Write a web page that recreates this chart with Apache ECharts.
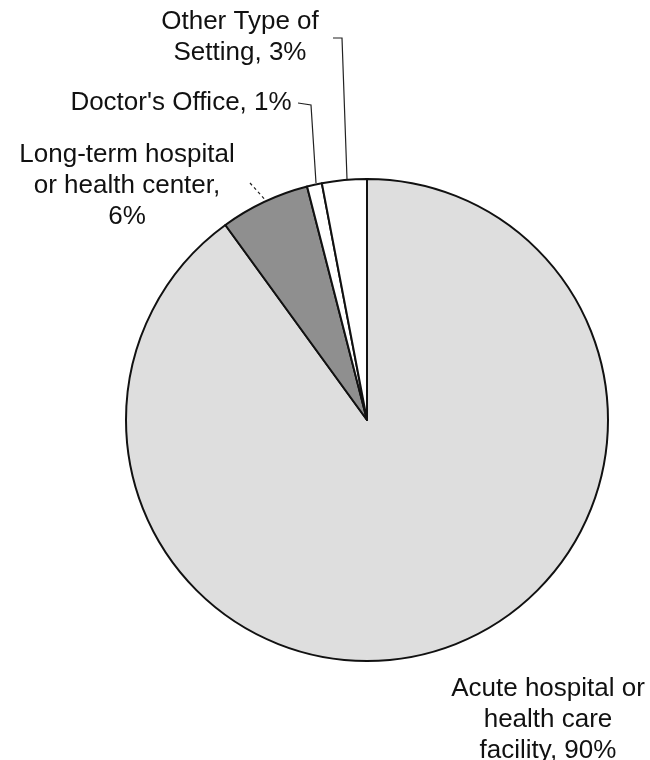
<!DOCTYPE html>
<html>
<head>
<meta charset="utf-8">
<script src="https://cdn.jsdelivr.net/npm/echarts@6/dist/echarts.min.js"></script>
<style>
  html, body { margin: 0; padding: 0; background: #fff; }
  #chart { width: 650px; height: 760px; }
</style>
</head>
<body>
<div id="chart"></div>
<script>
// slice order is clockwise from 12 o'clock
const categories = [
  'Acute hospital or\nhealth care\nfacility',
  'Long-term hospital\nor health center,\n',
  "Doctor's Office",
  'Other Type of\nSetting'
]
const values = [90, 6, 1, 3]
const sliceColors = ['#dedede', '#8f8f8f', '#ffffff', '#ffffff']

// where each label sits and how its leader line runs
const labelSpots = [
  { x: 548, y: 720, line: null, dashed: false },
  { x: 127, y: 186, line: [[250, 183], [268, 203]], dashed: true },
  { x: 181, y: 103, line: [[298, 103], [311, 105], [316, 183]], dashed: false },
  { x: 240, y: 37, line: [[333, 38], [342, 38], [347, 179]], dashed: false }
]

const chart = echarts.init(document.getElementById('chart'), null, { renderer: 'canvas' })

const option = {
  animation: false,
  series: [
    {
      type: 'pie',
      center: [367, 420],
      radius: 241,
      startAngle: 90,
      clockwise: true,
      avoidLabelOverlap: false,
      itemStyle: {
        borderColor: '#111',
        borderWidth: 2
      },
      label: {
        show: true,
        position: 'outside',
        formatter: p => {
          const sep = p.dataIndex === 1 ? '' : ', '
          return p.name + sep + p.value + '%'
        },
        fontFamily: 'Liberation Sans, Arial, sans-serif',
        fontSize: 26,
        lineHeight: 31,
        color: '#111',
        align: 'center'
      },
      labelLine: {
        show: true,
        lineStyle: { color: '#222', width: 1.2 }
      },
      labelLayout: params => {
        const s = labelSpots[params.dataIndex]
        const out = {
          x: s.x,
          y: s.y,
          align: 'center',
          verticalAlign: 'middle'
        }
        if (s.line) out.labelLinePoints = s.line
        return out
      },
      data: categories.map((name, i) => ({
        name: name,
        value: values[i],
        itemStyle: { color: sliceColors[i] },
        labelLine: {
          show: !!labelSpots[i].line,
          lineStyle: { type: labelSpots[i].dashed ? [3, 3] : 'solid' }
        }
      }))
    }
  ]
}

chart.setOption(option)
</script>
</body>
</html>
